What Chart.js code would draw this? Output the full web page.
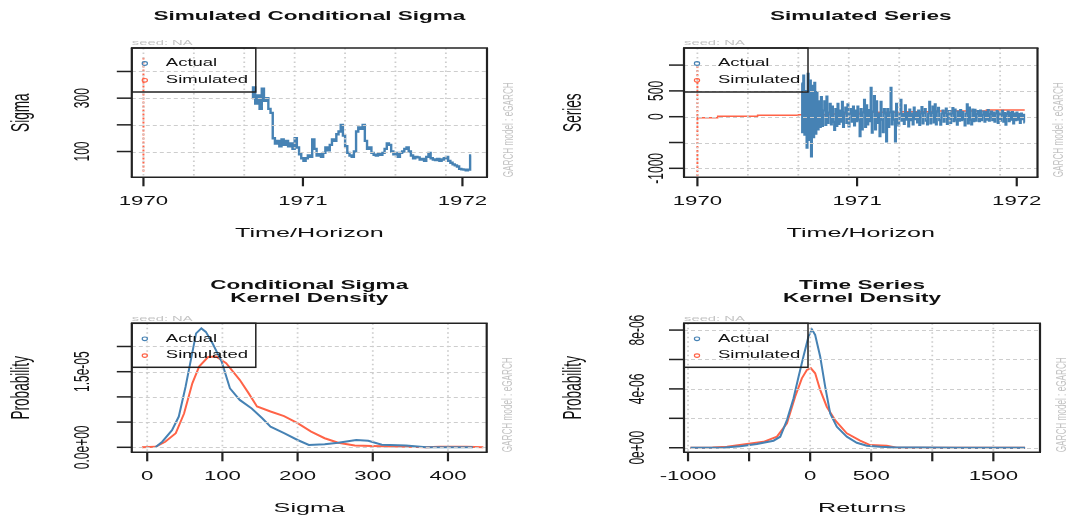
<!DOCTYPE html>
<html>
<head>
<meta charset="utf-8">
<script src="https://cdn.jsdelivr.net/npm/chart.js@4.4.1/dist/chart.umd.min.js"></script>
<style>
  html, body { margin: 0; padding: 0; background: #fff; }
  #wrap { position: relative; width: 1067px; height: 521px; overflow: hidden; }
  canvas { position: absolute; }
</style>
</head>
<body>
<div id="wrap">
  <canvas id="sigma-chart" width="533" height="260" style="left:0;top:0"></canvas>
  <canvas id="series-chart" width="534" height="260" style="left:533px;top:0"></canvas>
  <canvas id="sigma-density" width="533" height="261" style="left:0;top:260px"></canvas>
  <canvas id="returns-density" width="534" height="261" style="left:533px;top:260px"></canvas>
</div>
<script>
// Data
const legendLabels = ["Actual", "Simulated"];
const yearTicks = [1970, 1971, 1972];

const sigmaStart = 1970.68;
const sigmaStep = 0.01375;
const sigmaActual = [
  300, 340, 280, 310, 260, 335, 290, 300, 260, 245,
  150, 130, 140, 120, 145, 125, 140, 120, 130, 110,
  150, 115, 90, 75, 65, 75, 85, 80, 145, 110,
  85, 90, 80, 95, 115, 105, 125, 145, 140, 165,
  175, 200, 160, 120, 95, 85, 80, 100, 175, 190,
  185, 200, 140, 110, 115, 95, 88, 85, 90, 88,
  95, 110, 130, 125, 100, 90, 95, 80, 95, 100,
  110, 115, 100, 85, 75, 80, 78, 70, 72, 65,
  80, 95, 75, 70, 68, 72, 65, 70, 75, 80,
  65, 58, 52, 48, 44, 35, 33, 32, 30, 32, 85,
];
const sigmaSimulated = [25, 451]; // all simulated at horizon 1970
const sigmaTicks = [100, 200, 300, 400];
const sigmaTickLabels = ["100", "", "300", ""];

const seriesStart = 1970.652;
const seriesEnd = 1972.05;
const seriesActual = [
  650, -300, 800, -350, 500, -600, 830, -450, 700, -770, 600, -400, 660, -330, 480, -250,
  300, -200, 380, -180, 120, 300, -160, 390, -120, 80, 250, -150, 200, -100, -260, 150, -180, 250, -140, 120,
  -100, 290, -200, 80, 180, -120, 240, -190, 60, 150, -100, 200, -170, 120, -90, 200, -60,
  -380, 150, -250, 80, 330, -200, 220, -150, 130, -90,
  560, -310, 100, 400, -250, 300, -120, 60,
  -380, 290, -60, -300, 150, 60, -480, 150, -200, 80, 560, -150, 100, -60, -480, 250, -120,
  -170, 60, 330, -80, 50, -140, 220, -60, 70, -190, 140, -70, 60, -150, 180, -50, 80, -110, 120, -160, 60, 190, -130, 70, 150, -80,
  -150, 60, 290, -130, 70, 200, -110, 240, -150, 100,
  175, -70, -155, 60, 120, -100, 70, 160, -140, 50, 110, -120, 60, 170, -90, 140, -60, -155, 100, -80, 130, -70, 90, -50,
  -170, 60, 240, -130, 180, -60, -150, 140, -90,
  135, -80, 50, 110, -90, 120, -70, 40, 100, -100, 90, -60, 130, -80, 50, 100, -70, 80, -100, 60,
  110, -120, 90, -80, 40, 115, -100, 70, -155, 50, 100, -90, 80, -60, 90, -130, 60, -70, 80, -60, 50, -120, 60, -50, 40, -110,
];
const seriesSimTimes = [1970.0, 1970.127, 1970.377, 1970.633, 1970.83, 1971.02, 1971.27, 1971.5, 1971.81, 1971.91, 1972.05];
const seriesSimValues = [-31, -19, 8, 27, 40, 52, 85, 97, 110, 130, 130];
const seriesSimRange = [-1150, 1002]; // vertical at horizon 1970
const seriesTicks = [-1000, -500, 0, 500, 1000];
const seriesTickLabels = ["-1000", "", "0", "500", ""];

const sigmaDensActualX = [11, 20, 33, 42, 51, 58, 65, 72, 78, 87, 99, 110, 123, 139, 153, 164, 182, 200, 215, 236, 254, 278, 294, 312, 344, 371, 433];
const sigmaDensActualY = [0, 1.1e-6, 3.4e-6, 6.1e-6, 1.2e-5, 1.73e-5, 2.26e-5, 2.36e-5, 2.29e-5, 2.06e-5, 1.7e-5, 1.17e-5, 9.4e-6, 7.7e-6, 5.75e-6, 4.1e-6, 2.8e-6, 1.45e-6, 4.6e-7, 6e-7, 9e-7, 1.45e-6, 1.3e-6, 5e-7, 3.5e-7, 0, 0];
const sigmaDensSimX = [-7, 11, 24, 38, 49, 60, 69, 81, 92, 105, 123, 135, 146, 164, 182, 200, 218, 236, 254, 276, 299, 344, 371, 389, 425, 447];
const sigmaDensSimY = [0, 1e-7, 1.1e-6, 2.8e-6, 6.7e-6, 1.27e-5, 1.6e-5, 1.79e-5, 1.8e-5, 1.67e-5, 1.34e-5, 1.07e-5, 8.1e-6, 7.1e-6, 6.2e-6, 4.8e-6, 3.1e-6, 1.8e-6, 9e-7, 3.5e-7, 2.6e-7, 1.3e-7, 0, 1.3e-7, 1.3e-7, 0];
const sigmaDensTicksX = [0, 100, 200, 300, 400];
const sigmaDensTicksY = [0, 5e-6, 1e-5, 1.5e-5, 2e-5];
const sigmaDensLabelsY = ["0.0e+00", "", "", "1.5e-05", ""];

const retDensActualX = [-980, -700, -573, -436, -300, -245, -190, -136, -95, -55, -14, 14, 41, 82, 123, 164, 218, 300, 382, 464, 573, 700, 900, 1200, 1500, 1760];
const retDensActualY = [0, 2e-8, 1e-7, 2.5e-7, 4.8e-7, 7.5e-7, 1.88e-6, 3.36e-6, 4.83e-6, 6.2e-6, 7.55e-6, 8.05e-6, 7.67e-6, 6.2e-6, 4.15e-6, 2.34e-6, 1.43e-6, 7.5e-7, 3.4e-7, 1.4e-7, 7e-8, 2e-8, 2e-8, 0, 0, 0];
const retDensSimX = [-980, -800, -681, -518, -382, -272, -190, -123, -68, -27, 6, 41, 82, 136, 204, 300, 409, 491, 627, 709, 900, 1200, 1500, 1760];
const retDensSimY = [0, 2e-8, 7e-8, 2.5e-7, 4e-7, 7.5e-7, 1.66e-6, 3.47e-6, 4.72e-6, 5.29e-6, 5.4e-6, 5.06e-6, 3.93e-6, 2.79e-6, 1.88e-6, 9.8e-7, 4.8e-7, 1.8e-7, 1.4e-7, 0, 0, 0, 0, 0];
const retDensTicksX = [-1000, -500, 0, 500, 1000, 1500];
const retDensLabelsX = ["-1000", "", "0", "500", "", "1500"];
const retDensTicksY = [0, 2e-6, 4e-6, 6e-6, 8e-6];
const retDensLabelsY = ["0e+00", "", "4e-06", "", "8e-06"];

const BLUE = "#4682B4";
const RED = "#FF6347";
const SX = 1.85; // the picture is stretched sideways
const FONT = "'Liberation Sans', Arial, sans-serif";

// Helpers
const text = (ctx, s, x, y, o) => {
  ctx.save();
  ctx.font = o.font;
  ctx.fillStyle = o.color || "#111";
  ctx.textAlign = o.align || "center";
  ctx.textBaseline = "middle";
  ctx.translate(x, y);
  ctx.scale(SX, 1);
  if (o.rot) ctx.rotate(-Math.PI / 2);
  ctx.fillText(s, 0, 0);
  ctx.restore();
};

const seg = (ctx, x1, y1, x2, y2) => {
  ctx.beginPath();
  ctx.moveTo(x1, y1);
  ctx.lineTo(x2, y2);
  ctx.stroke();
};

const yearGrid = [];
for (let k = 0; k < 7; k++) yearGrid.push(1970 + k * 0.316);

// R style frame, grid, axes and legend
const rDecor = {
  id: "rDecor",
  afterDatasetsDraw(chart, args, o) {
    const ctx = chart.ctx;
    const a = chart.chartArea;
    const xs = chart.scales.x;
    const ys = chart.scales.y;
    ctx.save();

    // grid (drawn over the data)
    ctx.strokeStyle = "#cdcdcd";
    ctx.lineWidth = 1;
    ctx.setLineDash([4, 3]);
    o.yTicks.forEach((v) => {
      const y = Math.round(ys.getPixelForValue(v)) + 0.5;
      seg(ctx, a.left, y, a.right, y);
    });
    ctx.lineWidth = 1.8;
    ctx.setLineDash([1.5, 3]);
    o.xGrid.forEach((v) => {
      const x = xs.getPixelForValue(v);
      seg(ctx, x, a.top, x, a.bottom);
    });
    ctx.setLineDash([]);

    // box
    ctx.strokeStyle = "#222";
    ctx.lineWidth = 1.5;
    seg(ctx, a.left - 1, a.top, a.right + 1, a.top);
    seg(ctx, a.left - 1, a.bottom, a.right + 1, a.bottom);
    ctx.lineWidth = 2.2;
    seg(ctx, a.left, a.top, a.left, a.bottom);
    seg(ctx, a.right, a.top, a.right, a.bottom);

    // x axis
    o.xTicks.forEach((v, i) => {
      const x = xs.getPixelForValue(v);
      ctx.lineWidth = 2.2;
      seg(ctx, x, a.bottom, x, a.bottom + 9);
      text(ctx, o.xLabels[i], x, a.bottom + 24.5, { font: `12px ${FONT}` });
    });
    // y axis
    o.yTicks.forEach((v, i) => {
      const y = ys.getPixelForValue(v);
      ctx.lineWidth = 1.5;
      seg(ctx, a.left - 15, y, a.left, y);
      if (o.yLabels[i]) text(ctx, o.yLabels[i], a.left - o.yLabelGap, y, { font: `12px ${FONT}`, rot: true });
    });

    // titles
    const cx = (a.left + a.right) / 2;
    const cy = (a.top + a.bottom) / 2;
    if (o.title.length === 1) {
      text(ctx, o.title[0], cx, a.top - 31, { font: `bold 12.2px ${FONT}` });
    } else {
      text(ctx, o.title[0], cx, a.top - 37.5, { font: `bold 12.2px ${FONT}` });
      text(ctx, o.title[1], cx, a.top - 24.5, { font: `bold 12.2px ${FONT}` });
    }
    text(ctx, o.xTitle, cx, a.bottom + 56, { font: `13.6px ${FONT}` });
    text(ctx, o.yTitle, a.left - 110, cy, { font: `13.6px ${FONT}`, rot: true });
    text(ctx, "seed: NA", a.left, a.top - 5, { font: `8px ${FONT}`, color: "#c4c4c4", align: "left" });
    text(ctx, "GARCH model : eGARCH", a.right + 21.5, a.bottom, { font: `8.2px ${FONT}`, color: "#c4c4c4", align: "left", rot: true });

    // legend
    ctx.strokeStyle = "#222";
    ctx.lineWidth = 1.5;
    ctx.strokeRect(a.left, a.top, 124, 44);
    [BLUE, RED].forEach((c, i) => {
      const y = a.top + 15.5 + i * 16.8;
      ctx.strokeStyle = c;
      ctx.lineWidth = 1.2;
      ctx.beginPath();
      ctx.ellipse(a.left + 13, y, 2.6, 1.8, 0, 0, Math.PI * 2);
      ctx.stroke();
      text(ctx, legendLabels[i], a.left + 34, y, { font: `10px ${FONT}`, align: "left" });
    });
    ctx.restore();
  },
};

const makePanel = (id, padding, xRange, yRange, datasets, deco) => {
  return new Chart(document.getElementById(id), {
    type: "line",
    data: { datasets: datasets },
    options: {
      responsive: false,
      animation: false,
      devicePixelRatio: 1,
      layout: { padding: padding },
      scales: {
        x: { type: "linear", display: false, min: xRange[0], max: xRange[1] },
        y: { type: "linear", display: false, min: yRange[0], max: yRange[1] },
      },
      elements: { point: { radius: 0 }, line: { tension: 0 } },
      plugins: { legend: { display: false }, tooltip: { enabled: false }, rDecor: deco },
    },
    plugins: [rDecor],
  });
};

const pairs = (xs, ys) => xs.map((x, i) => ({ x: x, y: ys[i] }));
const seriesStep = (seriesEnd - seriesStart) / (seriesActual.length - 1);

// Simulated Conditional Sigma
makePanel(
  "sigma-chart",
  { left: 131.8, top: 48, right: 46, bottom: 82.7 },
  [1969.927, 1972.154],
  [3.4, 488],
  [
    {
      label: legendLabels[0],
      data: sigmaActual.map((v, i) => ({ x: sigmaStart + i * sigmaStep, y: v })),
      borderColor: BLUE,
      borderWidth: 2.4,
      stepped: "middle",
    },
    {
      label: legendLabels[1],
      data: sigmaSimulated.map((v) => ({ x: 1970, y: v })),
      borderColor: RED,
      borderWidth: 2,
      borderDash: [2, 2],
    },
  ],
  {
    title: ["Simulated Conditional Sigma"],
    xTitle: "Time/Horizon",
    yTitle: "Sigma",
    xTicks: yearTicks,
    xLabels: yearTicks.map(String),
    yTicks: sigmaTicks,
    yLabels: sigmaTickLabels,
    yLabelGap: 49,
    xGrid: yearGrid,
  }
);

// Simulated Series
makePanel(
  "series-chart",
  { left: 151, top: 48, right: 29.5, bottom: 82.7 },
  [1969.916, 1972.13],
  [-1174, 1331],
  [
    {
      label: legendLabels[0],
      data: seriesActual.map((v, i) => ({ x: seriesStart + i * seriesStep, y: v })),
      borderColor: BLUE,
      borderWidth: 2,
      stepped: "middle",
    },
    {
      label: legendLabels[1],
      data: pairs(seriesSimTimes, seriesSimValues),
      borderColor: RED,
      borderWidth: 1.5,
      stepped: "after",
    },
    {
      label: legendLabels[1],
      data: seriesSimRange.map((v) => ({ x: 1970, y: v })),
      borderColor: RED,
      borderWidth: 2,
      borderDash: [2, 2],
    },
  ],
  {
    title: ["Simulated Series"],
    xTitle: "Time/Horizon",
    yTitle: "Series",
    xTicks: yearTicks,
    xLabels: yearTicks.map(String),
    yTicks: seriesTicks,
    yLabels: seriesTickLabels,
    yLabelGap: 27,
    xGrid: yearGrid,
  }
);

// Conditional Sigma Kernel Density
makePanel(
  "sigma-density",
  { left: 131.8, top: 63.3, right: 46.3, bottom: 68.7 },
  [-20.5, 451.5],
  [-0.99e-6, 2.46e-5],
  [
    { label: legendLabels[0], data: pairs(sigmaDensActualX, sigmaDensActualY), borderColor: BLUE, borderWidth: 2 },
    { label: legendLabels[1], data: pairs(sigmaDensSimX, sigmaDensSimY), borderColor: RED, borderWidth: 2 },
  ],
  {
    title: ["Conditional Sigma", "Kernel Density"],
    xTitle: "Sigma",
    yTitle: "Probability",
    xTicks: sigmaDensTicksX,
    xLabels: sigmaDensTicksX.map(String),
    yTicks: sigmaDensTicksY,
    yLabels: sigmaDensLabelsY,
    yLabelGap: 49,
    xGrid: sigmaDensTicksX,
  }
);

// Time Series Kernel Density
makePanel(
  "returns-density",
  { left: 151, top: 63.3, right: 27, bottom: 68.7 },
  [-1033, 1882],
  [-0.31e-6, 8.46e-6],
  [
    { label: legendLabels[0], data: pairs(retDensActualX, retDensActualY), borderColor: BLUE, borderWidth: 2 },
    { label: legendLabels[1], data: pairs(retDensSimX, retDensSimY), borderColor: RED, borderWidth: 2 },
  ],
  {
    title: ["Time Series", "Kernel Density"],
    xTitle: "Returns",
    yTitle: "Probability",
    xTicks: retDensTicksX,
    xLabels: retDensLabelsX,
    yTicks: retDensTicksY,
    yLabels: retDensLabelsY,
    yLabelGap: 46,
    xGrid: retDensTicksX,
  }
);
</script>
</body>
</html>
